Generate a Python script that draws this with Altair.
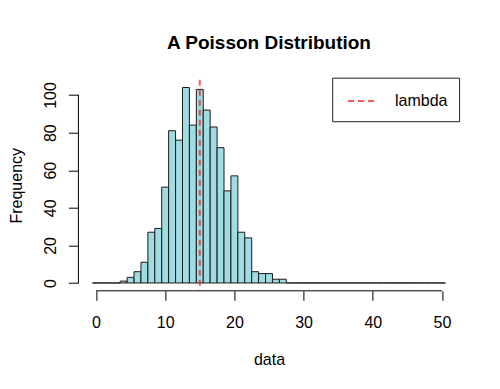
import altair as alt
import pandas as pd

# ---- data ----
values = list(range(0, 51))
counts = [0, 0, 0, 0, 1, 3, 6, 11, 27, 29, 51, 81, 76, 104, 84, 103, 92, 83, 72,
          49, 57, 27, 24, 6, 5, 5, 2, 2] + [0] * 23
x_ticks = [0, 10, 20, 30, 40, 50]
y_ticks = [0, 20, 40, 60, 80, 100]
lambda_val = [15]
legend_label = ["lambda"]

W, H = 381.2, 211.1
FONT = "Liberation Sans"

hist = pd.DataFrame({"value": values, "count": counts})
xdom = [-2.54, 52.54]
ydom = [-4.16, 108.16]

xscale = alt.Scale(domain=xdom, nice=False, zero=False)
yscale = alt.Scale(domain=ydom, nice=False, zero=False)

bars = alt.Chart(hist).transform_calculate(
    lo="datum.value - 0.5", hi="datum.value + 0.5", base="0"
).mark_rect(fill="#A1DCE2", stroke="#1a1a1a", strokeWidth=1).encode(
    x=alt.X("lo:Q", scale=xscale, axis=alt.Axis(
        values=x_ticks, domain=False, grid=False, tickSize=9.5, tickColor="black",
        labelFontSize=16, labelColor="black", labelBaseline="alphabetic",
        labelPadding=27, labelFlush=False, labelOverlap=False, format="d",
        title="data", titleFontSize=16, titleFontWeight="normal", titleColor="black",
        titleBaseline="alphabetic", titleY=74)),
    x2="hi:Q",
    y=alt.Y("count:Q", scale=yscale, axis=alt.Axis(
        values=y_ticks, domain=False, grid=False, tickSize=10, tickColor="black",
        labelFontSize=16, labelColor="black", labelAngle=270, labelAlign="center",
        labelBaseline="alphabetic", labelPadding=12.4, format="d",
        title="Frequency", titleFontSize=16, titleFontWeight="normal",
        titleColor="black", titleBaseline="alphabetic", titleAngle=270,
        titleX=-57.2)),
    y2="base:Q",
)

axis_x_df = pd.DataFrame({"a": [x_ticks[0]], "b": [x_ticks[-1]]})
axis_y_df = pd.DataFrame({"a": [y_ticks[0]], "b": [y_ticks[-1]]})

xline = alt.Chart(axis_x_df).mark_rule(color="black", strokeWidth=1).encode(
    x=alt.X("a:Q", scale=xscale), x2="b:Q", y=alt.value(H))
yline = alt.Chart(axis_y_df).mark_rule(color="black", strokeWidth=1).encode(
    y=alt.Y("a:Q", scale=yscale), y2="b:Q", x=alt.value(0))

lam_df = pd.DataFrame({"lam": lambda_val})
lam = alt.Chart(lam_df).mark_rule(color="red", opacity=0.65, strokeWidth=2,
                                  strokeDash=[6, 4]).encode(
    x=alt.X("lam:Q", scale=xscale), y=alt.value(0), y2=alt.value(H))

leg_df = pd.DataFrame({"label": legend_label})
leg_box = alt.Chart(leg_df).mark_rect(fill="white", stroke="#222", strokeWidth=1).encode(
    x=alt.value(254.3), x2=alt.value(W), y=alt.value(-1.5), y2=alt.value(42))
leg_line = alt.Chart(leg_df).mark_rule(color="red", opacity=0.65, strokeWidth=2,
                                       strokeDash=[6, 4]).encode(
    x=alt.value(269.6), x2=alt.value(296.6), y=alt.value(21.3))
leg_text = alt.Chart(leg_df).mark_text(align="left", baseline="alphabetic",
                                       fontSize=16, font=FONT, color="black").encode(
    x=alt.value(316.6), y=alt.value(26.8), text="label:N")

chart = alt.layer(bars, xline, yline, lam, leg_box, leg_line, leg_text).properties(
    width=W, height=H,
    title=alt.TitleParams("A Poisson Distribution", fontSize=19, fontWeight="bold",
                          anchor="middle", frame="group", baseline="alphabetic",
                          offset=9.7, color="black", font=FONT),
    autosize=alt.AutoSizeParams(type="none"),
    padding={"left": 70.4, "top": 71.7, "right": 30, "bottom": 88},
).configure(font=FONT).configure_view(stroke=None)

chart.save("out.html", embed_options={"renderer": "svg", "actions": False})
